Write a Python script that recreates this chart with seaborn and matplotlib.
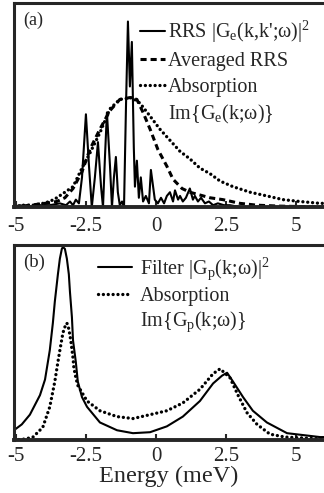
import matplotlib
matplotlib.use("Agg")
import matplotlib.pyplot as plt
from matplotlib.lines import Line2D
import seaborn as sns

# --- Panel (a): electron RRS spectra (arb. units, RRS peak = 1) ---
rrs_energy = [-5.07, -4.86, -4.50, -4.14, -3.79, -3.43, -3.21, -3.07, -2.96, -2.86,
              -2.75, -2.64, -2.50, -2.39, -2.29, -2.18, -2.07, -1.96, -1.89, -1.82,
              -1.75, -1.64, -1.57, -1.50, -1.43, -1.36, -1.29, -1.21, -1.14, -1.07,
              -1.00, -0.93, -0.86, -0.79, -0.75, -0.68, -0.61, -0.54, -0.46, -0.36,
              -0.25, -0.18, -0.04, 0.07, 0.18, 0.29, 0.39, 0.50, 0.61, 0.68,
              0.79, 0.86, 0.96, 1.07, 1.21, 1.32, 1.39, 1.50, 1.61, 1.75,
              1.89, 2.04, 2.21, 2.43, 2.64, 3.00, 4.43, 6.00]
rrs_value = [0.00, 0.01, 0.00, 0.01, 0.01, 0.02, 0.01, 0.03, 0.01, 0.04,
             0.02, 0.16, 0.50, 0.22, 0.00, 0.16, 0.35, 0.11, 0.00, 0.27,
             0.51, 0.22, 0.00, 0.16, 0.27, 0.08, 0.01, 0.03, 0.00, 0.54,
             1.00, 0.65, 0.89, 0.32, 0.11, 0.25, 0.05, 0.16, 0.03, 0.06,
             0.02, 0.20, 0.04, 0.02, 0.05, 0.02, 0.06, 0.08, 0.03, 0.09,
             0.04, 0.06, 0.03, 0.05, 0.10, 0.04, 0.06, 0.03, 0.05, 0.02,
             0.03, 0.01, 0.02, 0.01, 0.01, 0.00, 0.00, 0.00]

avg_energy = [-5.07, -4.50, -3.96, -3.54, -3.25, -2.96, -2.64, -2.36, -2.00, -1.64,
              -1.29, -0.93, -0.68, -0.46, -0.21, 0.07, 0.39, 0.61, 0.93, 1.21,
              1.57, 1.93, 2.39, 3.00, 3.61, 4.43, 6.00]
avg_value = [0.00, 0.01, 0.02, 0.03, 0.05, 0.10, 0.19, 0.31, 0.42, 0.52,
             0.58, 0.59, 0.58, 0.51, 0.42, 0.31, 0.22, 0.15, 0.10, 0.08,
             0.065, 0.05, 0.04, 0.02, 0.01, 0.005, 0.00]

abs_e_energy = [-5.07, -4.75, -4.39, -4.04, -3.79, -3.54, -3.25, -2.96, -2.64, -2.36,
                -2.00, -1.64, -1.29, -0.86, -0.57, -0.21, 0.14, 0.50, 0.86, 1.21,
                1.57, 1.93, 2.29, 2.75, 3.36, 3.96, 4.54, 5.14, 5.86, 6.00]
abs_e_value = [0.00, 0.01, 0.01, 0.02, 0.03, 0.05, 0.08, 0.11, 0.21, 0.29,
               0.40, 0.53, 0.58, 0.59, 0.56, 0.49, 0.42, 0.36, 0.30, 0.26,
               0.21, 0.18, 0.14, 0.11, 0.08, 0.06, 0.04, 0.03, 0.02, 0.02]

# --- Panel (b): photon filter and absorption ---
filt_energy = [-5.07, -4.79, -4.50, -4.14, -3.96, -3.79, -3.68, -3.61, -3.50, -3.43,
               -3.36, -3.32, -3.25, -3.18, -3.11, -3.07, -3.00, -2.96, -2.86, -2.79,
               -2.64, -2.46, -2.00, -1.39, -0.82, -0.21, 0.39, 0.96, 1.57, 2.04,
               2.36, 2.54, 2.75, 3.11, 3.46, 3.96, 4.68, 5.86, 6.00]
filt_value = [0.05, 0.08, 0.13, 0.23, 0.31, 0.46, 0.60, 0.71, 0.85, 0.93,
              0.98, 0.99, 0.98, 0.93, 0.85, 0.76, 0.63, 0.51, 0.40, 0.30,
              0.22, 0.17, 0.09, 0.05, 0.035, 0.04, 0.07, 0.12, 0.20, 0.29,
              0.33, 0.345, 0.30, 0.22, 0.15, 0.09, 0.035, 0.015, 0.015]

abs_p_energy = [-5.07, -4.68, -4.39, -4.04, -3.79, -3.61, -3.50, -3.43, -3.32, -3.25,
                -3.18, -3.11, -3.04, -2.96, -2.93, -2.86, -2.79, -2.46, -2.00, -1.39,
                -0.82, -0.21, 0.39, 0.96, 1.57, 2.04, 2.29, 2.64, 2.93, 3.25,
                3.61, 4.07, 4.61, 6.00]
abs_p_value = [0.00, 0.005, 0.015, 0.065, 0.17, 0.30, 0.40, 0.46, 0.55, 0.58,
               0.60, 0.57, 0.51, 0.42, 0.37, 0.32, 0.28, 0.20, 0.15, 0.12,
               0.11, 0.13, 0.15, 0.19, 0.26, 0.34, 0.365, 0.32, 0.23, 0.14,
               0.08, 0.03, 0.015, 0.005]

xticks = [-5, -2.5, 0, 2.5, 5]
xtick_labels = ["-5", "-2.5", "0", "2.5", "5"]

sns.set_style("ticks")
plt.rcParams["font.family"] = ["Liberation Serif", "DejaVu Serif"]
plt.rcParams["mathtext.fontset"] = "custom"
plt.rcParams["mathtext.rm"] = "Liberation Serif"
plt.rcParams["mathtext.it"] = "Liberation Serif:italic"

fig = plt.figure(figsize=(3.24, 4.93), dpi=100)
ax_a = fig.add_axes([0.043, 0.580, 0.957, 0.414])
ax_b = fig.add_axes([0.043, 0.1075, 0.957, 0.3955])

dotted = (0, (0.01, 1.45))
dashed = (0, (2.0, 1.3))

sns.lineplot(x=rrs_energy, y=rrs_value, ax=ax_a, color="black", lw=1.5,
             sort=False, estimator=None)
sns.lineplot(x=avg_energy, y=avg_value, ax=ax_a, color="black", lw=2.2,
             linestyle=dashed, sort=False, estimator=None)
sns.lineplot(x=abs_e_energy, y=abs_e_value, ax=ax_a, color="black", lw=2.4,
             linestyle=dotted, dash_capstyle="round", sort=False, estimator=None)

sns.lineplot(x=filt_energy, y=filt_value, ax=ax_b, color="black", lw=1.5,
             sort=False, estimator=None)
sns.lineplot(x=abs_p_energy, y=abs_p_value, ax=ax_b, color="black", lw=2.4,
             linestyle=dotted, dash_capstyle="round", sort=False, estimator=None)

for ax, top, pad in [(ax_a, 1.10, 7), (ax_b, 1.0, 5)]:
    ax.set_xlim(-5.07, 6.0)
    ax.set_ylim(0, top)
    ax.set_xticks(xticks)
    ax.set_xticklabels(xtick_labels)
    ax.set_yticks([])
    ax.tick_params(axis="x", direction="in", length=4, width=1.5, pad=pad, labelsize=15)
    ax.spines["right"].set_visible(False)
    for s in ["left", "top", "bottom"]:
        ax.spines[s].set_linewidth(2.2)
    ax.spines["bottom"].set_linewidth(2.8)

ax_a.text(0.03, 0.955, "(a)", transform=ax_a.transAxes, fontsize=13, va="top")
ax_b.text(0.03, 0.955, "(b)", transform=ax_b.transAxes, fontsize=13.5, va="top")
ax_b.set_xlabel("Energy (meV)", fontsize=17.5, labelpad=0)

# legend handles: the second line of the absorption label has no line of its own
solid_h = Line2D([], [], color="black", lw=1.5)
dash_h = Line2D([], [], color="black", lw=2.2, linestyle=dashed)
dot_h = Line2D([], [], color="black", lw=2.4, linestyle=dotted, dash_capstyle="round")
blank_h = Line2D([], [], color="none")

leg_a = ax_a.legend(
    [solid_h, dash_h, dot_h, blank_h],
    ["RRS |G$_\\mathregular{e}$(k,k';ω)|$^\\mathregular{2}$", "Averaged RRS",
     "Absorption", "Im{G$_\\mathregular{e}$(k;ω)}"],
    loc="upper left", bbox_to_anchor=(0.405, 0.92), frameon=False,
    fontsize=14.5, handlelength=1.25, handletextpad=0.15,
    borderpad=0, borderaxespad=0, labelspacing=0.32)
leg_b = ax_b.legend(
    [solid_h, dot_h, blank_h],
    ["Filter |G$_\\mathregular{p}$(k;ω)|$^\\mathregular{2}$", "Absorption",
     "Im{G$_\\mathregular{p}$(k;ω)}"],
    loc="upper left", bbox_to_anchor=(0.27, 0.945), frameon=False,
    fontsize=14.5, handlelength=1.7, handletextpad=0.4,
    borderpad=0, borderaxespad=0, labelspacing=0.2)

fig.savefig("out.png", dpi=100)
